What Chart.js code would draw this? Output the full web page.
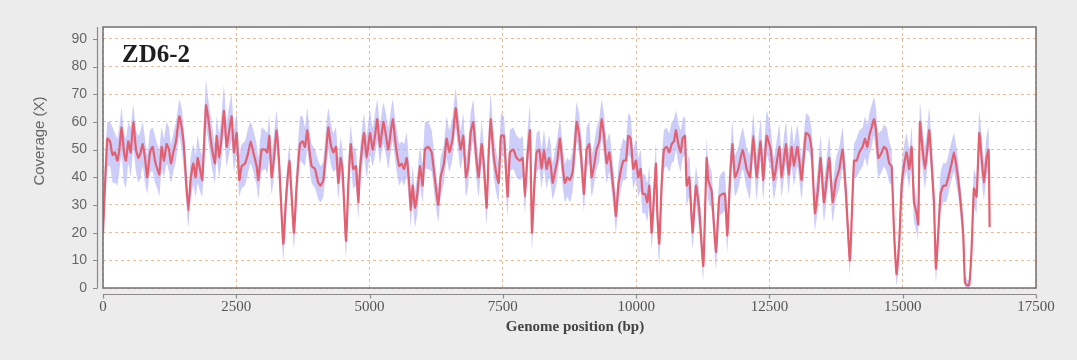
<!DOCTYPE html>
<html><head><meta charset="utf-8">
<script src="https://cdn.jsdelivr.net/npm/chart.js@4.4.1/dist/chart.umd.min.js"></script>
<style>html,body{margin:0;padding:0;background:#ececec;overflow:hidden}#wrap{width:1077px;height:360px;position:relative}</style>
</head><body><div id="wrap"><canvas id="c" width="1077" height="360"></canvas></div>
<script>
// Genome position (bp) of each read-off vertex of the mean coverage line
const positions = [0,81,131,181,225,269,306,350,394,431,475,519,569,619,663,707,744,788,831,881,931,975,1019,1057,1100,1144,1194,1238,1275,1319,1369,1432,1476,1519,1557,1601,1644,1694,1738,1776,1819,1863,1932,1976,2038,2101,2132,2182,2226,2269,2319,2369,2413,2457,2507,2557,2601,2663,2726,2770,2820,2882,2913,2976,3038,3082,3120,3163,3207,3257,3307,3382,3432,3495,3539,3582,3632,3695,3745,3789,3832,3870,3914,3976,4039,4083,4132,4183,4226,4270,4320,4370,4414,4458,4495,4558,4601,4645,4695,4745,4789,4820,4895,4945,5008,5058,5102,5145,5195,5258,5308,5352,5433,5495,5558,5602,5646,5696,5746,5771,5808,5852,5896,5946,5996,6039,6102,6164,6227,6290,6333,6396,6446,6496,6558,6615,6665,6708,6758,6808,6852,6896,6946,6996,7046,7102,7146,7196,7233,7271,7321,7371,7421,7465,7521,7558,7590,7633,7696,7758,7821,7871,7915,7958,8009,8046,8090,8133,8183,8227,8271,8321,8365,8400,8434,8478,8521,8571,8621,8665,8709,8759,8809,8853,8884,8934,8978,9022,9072,9122,9165,9209,9259,9309,9353,9397,9447,9497,9540,9584,9622,9666,9709,9759,9809,9853,9897,9947,9997,10040,10084,10122,10166,10209,10247,10291,10334,10372,10397,10434,10478,10522,10572,10622,10666,10709,10747,10791,10835,10872,10916,10947,10997,11059,11122,11185,11260,11322,11353,11416,11497,11560,11622,11666,11710,11760,11804,11854,11916,11998,12073,12135,12198,12260,12335,12385,12448,12523,12585,12685,12729,12810,12860,12916,12960,13023,13060,13104,13185,13248,13292,13354,13417,13460,13523,13573,13623,13686,13748,13811,13873,13936,14010,14086,14136,14186,14248,14292,14336,14373,14417,14461,14498,14542,14605,14648,14698,14748,14792,14836,14886,14936,14980,15030,15073,15123,15167,15211,15261,15292,15323,15373,15417,15461,15498,15542,15586,15623,15667,15711,15761,15811,15855,15917,15961,15999,16042,16086,16136,16167,16211,16248,16292,16336,16386,16436,16480,16523,16573,16611,16630];
// Mean coverage (X) at those positions
const coverage = [20,54,53,48,49,46,50,58,49,46,53,49,60,50,47,49,52,47,40,49,51,46,43,41,51,46,52,50,45,49,53,62,58,51,39,28,39,45,40,47,43,39,66,61,51,45,55,47,55,64,51,57,62,49,56,39,44,45,49,53,49,44,39,50,50,49,55,40,47,57,44,16,32,46,33,20,37,52,53,51,57,50,44,43,38,37,39,49,58,52,49,51,38,47,42,17,37,52,43,44,31,43,56,47,56,50,55,61,51,60,55,50,61,51,44,45,43,47,37,28,37,29,34,44,37,50,51,49,39,30,40,45,54,49,54,65,56,50,55,40,44,56,60,48,40,52,44,29,48,61,49,42,38,55,55,43,33,49,50,47,46,47,33,47,57,20,37,49,50,43,50,43,47,44,38,42,46,54,44,38,40,39,42,52,60,55,45,34,50,52,40,44,50,53,61,55,45,49,42,34,26,37,42,46,46,55,54,43,46,40,43,34,34,31,37,20,33,45,27,16,37,50,51,49,52,53,57,52,49,54,55,37,40,20,37,28,8,47,39,35,13,33,34,34,19,39,52,40,43,50,43,40,55,40,53,39,55,50,39,51,40,52,41,51,44,51,46,39,56,55,50,27,37,47,31,39,47,31,39,43,50,34,10,46,46,49,51,54,51,55,58,61,57,47,49,51,50,45,44,21,5,17,37,45,49,43,51,31,27,23,60,50,43,50,57,45,31,7,20,34,37,37,40,45,49,45,39,31,19,2,1,1,14,36,33,56,47,38,47,50,22];
// Upper and lower edge of the shaded coverage spread at the same positions
const bandUpper = [30,60,60,58,56,54,58,65,56,54,60,58,66,57,55,57,60,54,48,57,58,55,52,50,58,54,60,58,52,56,60,68,65,57,46,34,47,52,48,55,50,48,75,68,60,52,62,56,63,73,60,66,70,57,63,48,52,53,58,60,57,52,47,58,57,56,62,48,55,64,50,22,38,52,39,25,44,62,62,58,65,58,52,50,46,44,46,57,65,60,56,58,47,54,50,23,44,59,51,50,37,50,63,55,64,58,63,68,59,67,63,58,68,59,52,53,52,56,44,34,44,35,41,51,45,60,60,57,46,36,47,52,62,57,62,72,63,57,63,47,52,63,68,56,47,60,51,35,56,70,57,50,45,63,62,50,40,57,58,55,54,55,40,55,66,27,44,56,57,50,57,50,55,52,45,50,54,61,52,45,47,46,50,60,67,63,53,41,58,60,48,52,58,61,68,63,53,56,50,41,32,44,50,54,53,63,62,50,54,47,50,41,41,38,44,27,40,52,34,22,45,57,58,56,60,61,64,60,57,61,62,45,48,27,44,35,14,54,46,42,19,40,42,42,26,47,60,48,51,58,51,48,63,48,61,47,64,58,47,59,48,60,49,59,52,59,54,47,63,62,57,34,45,55,38,47,55,38,47,51,58,41,16,52,54,57,58,62,59,63,66,69,65,56,57,59,58,53,50,27,10,23,44,52,56,50,58,38,33,29,67,58,51,58,65,53,38,12,26,42,45,45,48,53,56,52,46,37,25,5,3,3,20,43,40,64,55,45,55,58,28];
const bandLower = [15,44,44,38,38,37,42,48,38,36,45,40,50,42,38,40,44,38,34,42,42,38,36,33,43,40,45,42,38,42,46,55,50,42,32,22,32,37,33,38,35,33,58,53,44,38,47,40,47,56,44,49,53,42,48,33,36,37,42,45,42,37,32,42,43,41,47,34,40,50,36,10,25,40,27,14,30,46,45,44,50,44,38,36,32,31,33,42,50,45,42,43,32,40,35,11,30,45,36,37,25,36,48,40,48,44,48,53,45,52,48,43,53,44,37,39,37,40,30,22,30,22,27,37,31,43,43,42,32,24,33,38,47,42,47,58,49,43,48,33,37,49,53,41,33,45,37,23,41,54,42,35,31,48,47,36,26,42,43,40,39,40,27,40,50,14,30,42,43,36,43,36,40,37,32,35,39,47,37,31,33,31,35,45,53,48,38,28,43,45,33,37,43,46,54,48,38,42,35,28,20,30,35,39,39,48,47,36,39,33,35,27,27,24,30,14,26,38,20,8,30,43,44,42,45,46,50,45,42,47,48,30,33,14,30,21,3,40,32,28,7,26,27,28,13,32,45,33,36,43,36,32,48,32,46,32,48,43,32,44,33,45,34,44,37,44,39,32,50,49,43,21,30,40,24,32,40,24,32,36,43,27,5,40,40,42,44,47,44,48,51,55,49,40,42,44,42,38,37,15,1,11,30,39,42,36,44,24,20,17,54,43,36,43,50,38,24,2,14,28,31,31,34,39,42,38,33,25,13,0,0,0,8,29,27,49,40,32,40,43,16];
const yTicks = [0,10,20,30,40,50,60,70,80,90];
const xTicks = [0,2500,5000,7500,10000,12500,15000,17500];
const chartTitle = 'ZD6-2';
const xTitle = 'Genome position (bp)';
const yTitle = 'Coverage (X)';

const frame = {
  id: 'frame',
  beforeDraw(chart) {
    const {ctx, chartArea: a} = chart;
    ctx.save();
    ctx.fillStyle = '#ececec';
    ctx.fillRect(0, 0, chart.width, chart.height);
    ctx.fillStyle = '#ffffff';
    ctx.fillRect(a.left, a.top, a.right - a.left, a.bottom - a.top);
    ctx.restore();
  },
  afterDraw(chart) {
    const {ctx, chartArea: a, scales} = chart;
    ctx.save();
    ctx.strokeStyle = '#707070';
    ctx.lineWidth = 1.5;
    ctx.strokeRect(a.left, a.top, a.right - a.left, a.bottom - a.top);
    ctx.strokeStyle = '#8a8a8a';
    ctx.lineWidth = 1.2;
    ctx.beginPath();
    ctx.moveTo(97.5, a.top); ctx.lineTo(97.5, a.bottom);
    yTicks.forEach(v => { const y = Math.round(scales.y.getPixelForValue(v)) + 0.5; ctx.moveTo(93, y); ctx.lineTo(97.5, y); });
    ctx.stroke();
    ctx.beginPath();
    const xa = a.bottom + 6.5;
    ctx.moveTo(a.left, xa); ctx.lineTo(a.right, xa);
    xTicks.forEach(v => { const x = Math.round(scales.x.getPixelForValue(v)) + 0.5; ctx.moveTo(x, xa); ctx.lineTo(x, xa + 4); });
    ctx.stroke();
    ctx.fillStyle = '#1e1e1e';
    ctx.font = 'bold 25px "Liberation Serif", "DejaVu Serif", serif';
    ctx.textBaseline = 'alphabetic';
    ctx.textAlign = 'left';
    ctx.fillText(chartTitle, 122, 62);
    ctx.fillStyle = '#444';
    ctx.font = 'bold 15px "Liberation Serif", serif';
    ctx.textAlign = 'center';
    ctx.textBaseline = 'middle';
    ctx.fillText(xTitle, 575, 327);
    ctx.fillStyle = '#666';
    ctx.font = '15px "Liberation Sans", Arial, sans-serif';
    ctx.translate(40, 141);
    ctx.rotate(-Math.PI / 2);
    ctx.fillText(yTitle, 0, 0);
    ctx.restore();
  }
};

const meanData = positions.map((p, i) => ({x: p, y: coverage[i]}));
const upperData = positions.map((p, i) => ({x: p, y: bandUpper[i]}));
const lowerData = positions.map((p, i) => ({x: p, y: bandLower[i]}));

new Chart(document.getElementById('c'), {
  type: 'line',
  data: {
    datasets: [
      {data: meanData, borderColor: 'rgb(226,96,112)', borderWidth: 2.2, pointRadius: 0, tension: 0.15, fill: false},
      {data: upperData, borderWidth: 0, borderColor: 'rgba(0,0,0,0)', pointRadius: 0, tension: 0.15, fill: '+1', backgroundColor: 'rgba(172,176,246,0.62)'},
      {data: lowerData, borderWidth: 0, borderColor: 'rgba(0,0,0,0)', pointRadius: 0, tension: 0.15, fill: false}
    ]
  },
  options: {
    responsive: false,
    animation: false,
    devicePixelRatio: 1,
    layout: {padding: {left: 0, right: 41, top: 27, bottom: 0}},
    plugins: {legend: {display: false}, tooltip: {enabled: false}},
    scales: {
      x: {
        type: 'linear', min: 0, max: 17500,
        afterFit(s) { s.height = 72; },
        afterBuildTicks(s) { s.ticks = xTicks.map(v => ({value: v})); },
        grid: {color: 'rgba(232,166,112,0.75)', lineWidth: 1, drawTicks: false},
        border: {display: false, dash: [3, 3]},
        ticks: {autoSkip: false, maxRotation: 0, padding: 10, color: '#555', font: {family: '"Liberation Serif", serif', size: 15}, callback: v => String(v)}
      },
      y: {
        min: 0, max: 94.3,
        afterFit(s) { s.width = 103; },
        afterBuildTicks(s) { s.ticks = yTicks.map(v => ({value: v})); },
        grid: {color: 'rgba(232,166,112,0.75)', lineWidth: 1, drawTicks: false},
        border: {display: false, dash: [3, 3]},
        ticks: {padding: 16, color: '#666', font: {family: '"Liberation Sans", Arial, sans-serif', size: 14}, callback: v => String(v)}
      }
    }
  },
  plugins: [frame]
});
</script></body></html>
